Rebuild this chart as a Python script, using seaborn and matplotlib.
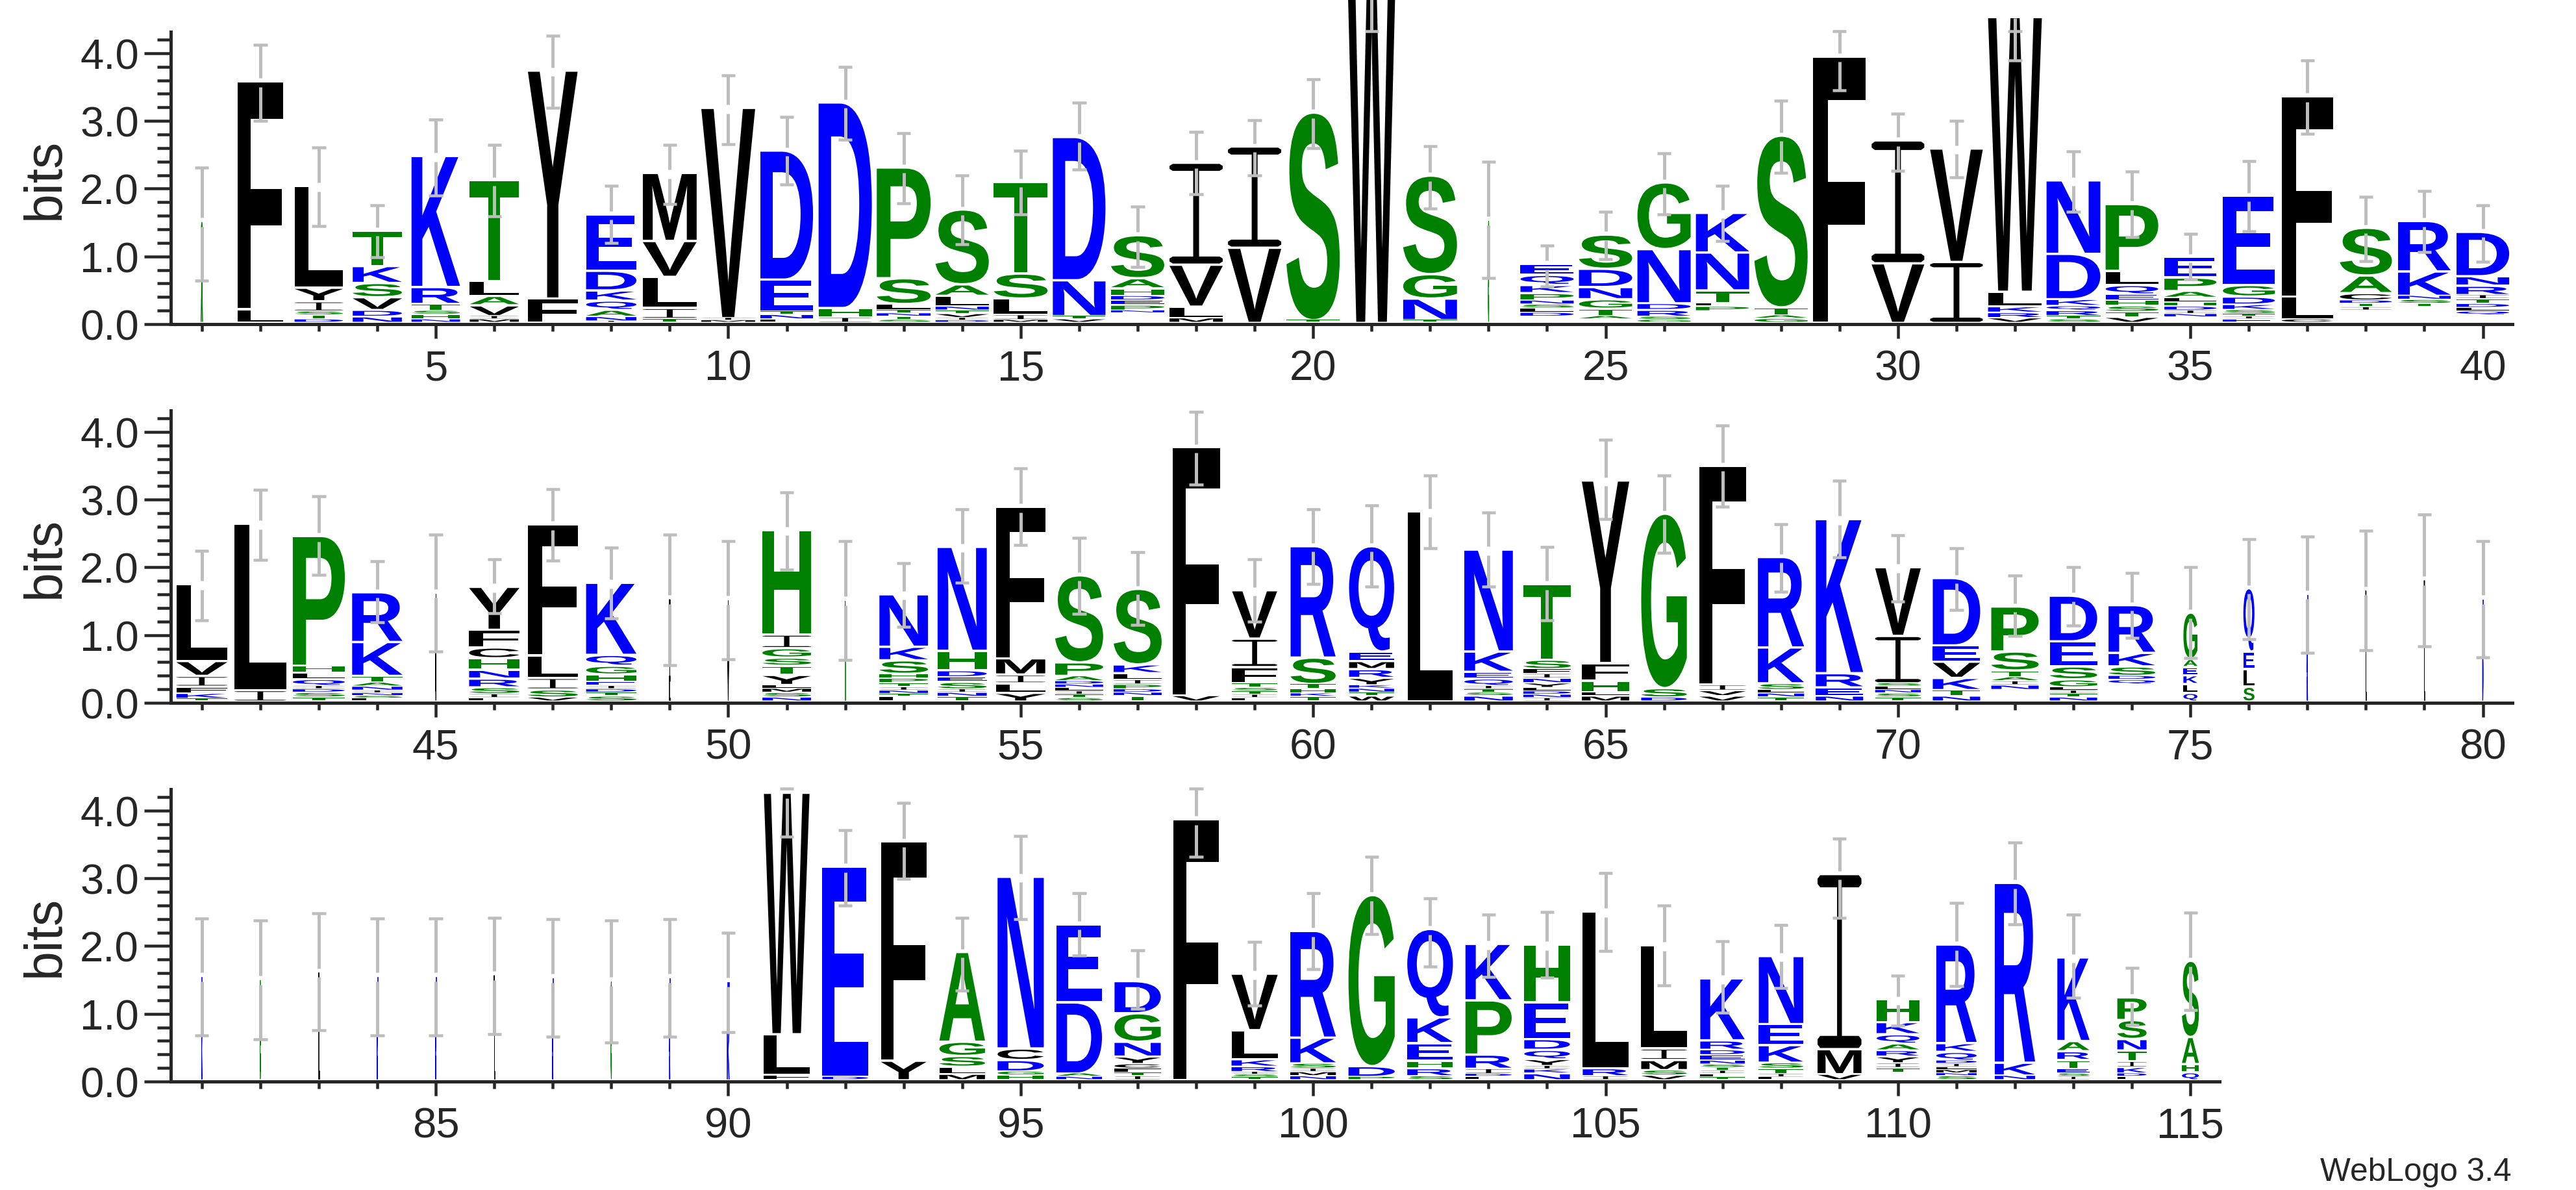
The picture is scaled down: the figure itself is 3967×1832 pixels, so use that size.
import matplotlib
matplotlib.use("Agg")
import matplotlib.pyplot as plt
import seaborn as sns
from matplotlib.font_manager import FontProperties
from matplotlib.patches import PathPatch
from matplotlib.path import Path
from matplotlib.textpath import TextPath
from matplotlib.transforms import Affine2D
from matplotlib.ticker import MultipleLocator

# ---------- data: letters are bottom -> top, ' ' is an empty spacer ----------
row1_letters = ["AS", "LF", "DTSIYL", "NDVSKT", "NHSTRK", "MIVALT", "FY", "INAQKDE", "TILVM", "MIV",
                "LNTED", "IHD", "STNTLSP", "DIVTNLAS", "MILST", "VTND", " NPEDHAS", "MLVI", "VI", "TS",
                "W", "TNGS", "GS", " DLSNPKQE", " ATGNDS", "GSRDNG", " PLTNK", "GATS", "F", "VI",
                "IV", "VRKLW", "STRQKDN", "VTSHEQLP", " NIDHLAPE", "EITSKDGE", "CLF", " ITDCAS", " TSNKR", " QLDTIRND"]
row1_heights = [[.72, .75], [.20, 3.33], [.05, .06, .06, .15, .20, 1.47], [.09, .10, .19, .21, .25, .49],
                [.05, .07, .06, .10, .25, 1.90], [.05, .05, .16, .14, .22, 1.45], [.36, 3.33],
                [.02, .07, .10, .14, .15, .29, .80], [.06, .16, .46, .53, .97], [.03, .04, 3.07],
                [.05, .07, .05, .47, 1.87], [.08, .14, 3.00], [.04, .05, .05, .05, .09, .38, 1.60],
                [.03, .04, .06, .05, .06, .16, .17, 1.07], [.04, .08, .24, .37, 1.32], [.05, .05, .53, 2.08],
                [.14, .04, .08, .07, .07, .11, .15, .60], [.07, .17, .62, 1.47], [1.11, 1.46], [.04, 3.03],
                [5.40], [.04, .32, .36, 1.42], [.75, .74], [.09, .06, .06, .06, .06, .11, .12, .15, .13],
                [.05, .05, .11, .14, .18, .27, .47], [.04, .05, .10, .10, .80, .95],
                [.17, .07, .05, .19, .56, .55], [.06, .05, .12, 2.50], [3.90], [.88, 1.78], [.90, 1.64],
                [.07, .08, .09, .22, 4.02], [.05, .05, .08, .07, .10, .67, 1.05],
                [.08, .08, .09, .08, .09, .14, .21, .95], [.08, .05, .05, .06, .06, .07, .10, .20, .27],
                [.05, .04, .04, .06, .08, .12, .17, 1.28], [.05, .34, 2.92],
                [.18, .05, .05, .05, .11, .26, .67], [.23, .05, .06, .06, .36, .71],
                [.11, .06, .05, .06, .07, .06, .14, .14, .62]]
row1_widths = [.03, .77, .83, .84, .83, .84, .85, .86, .92, .92, .90, .91, .92, .91, .92, .90, .91, .91, .91, .91,
               .84, .92, .012, .91, .91, .91, .91, .91, .90, .90, .90, .92, .92, .90, .89, .89, .88, .89, .90, .90]
row1_low = [.64, 3.00, 1.45, .99, 1.90, 1.59, 3.19, 1.20, 1.77, 2.66, 2.06, 2.72, 1.78, 1.18, 1.62, 2.28, .84, 1.92, 2.20, 2.60,
            4.32, 1.71, .68, .56, .96, 1.62, 1.23, 2.23, 3.45, 2.26, 2.17, 3.89, 1.66, 1.28, .66, 1.37, 2.81, .93, 1.06, .92]
row1_high = [2.31, 4.12, 2.61, 1.75, 3.02, 2.65, 4.26, 2.04, 2.65, 3.67, 3.06, 3.80, 2.82, 2.20, 2.56, 3.27, 1.74, 2.84, 3.01, 3.61,
             5.90, 2.63, 2.40, 1.16, 1.66, 2.52, 2.04, 3.30, 4.32, 3.11, 3.00, 4.32, 2.55, 2.25, 1.33, 2.41, 3.89, 1.88, 1.97, 1.75]

row2_letters = ["TKFIVL", "IL", "TSDIQLHP", "LSNINATKR", "VL", "LISRNHCFY", "VSILF", "STDIEHGQK", "LI", "VIL",
                "NSMLYTSGIH", "TS", "LTNITPHSKN", "TNISEDHN", "YLIMF", "STILNDAPS", "TNDPILKS", "VF", "LITSTFIV", "TKHTSR",
                "WTNKYRMEQ", "L", "NSTIQEKN", "INDLYNIFST", "MLHFY", "DSG", "VVIF", "TNLSKR", "NERK", "TSNLSIV",
                "NTKVED", " NIATSP", "NTILGSED", " QDSKR", "QLKEAG", "SLEQ", "KE", "LI", "LV", "DE"]
row2_heights = [[.04, .08, .10, .16, .22, 1.10], [.17, 2.42], [.06, .07, .05, .05, .10, .10, .10, 1.88],
                [.04, .04, .04, .04, .06, .06, .10, .50, .70], [.79, .79], [.05, .06, .10, .13, .13, .17, .16, .26, .60],
                [.06, .12, .17, .33, 1.90], [.08, .05, .05, .05, .06, .11, .13, .16, 1.03], [.28, 1.21], [.60, .40, .48],
                [.06, .07, .06, .055, .15, .135, .12, .14, .20, 1.51], [.75, .72],
                [.07, .04, .05, .05, .06, .07, .07, .20, .20, .74], [.07, .06, .05, .11, .07, .10, .29, 1.50],
                [.13, .14, .13, .24, 2.20], [.05, .05, .05, .05, .05, .05, .08, .20, 1.25],
                [.08, .05, .05, .07, .07, .10, .13, 1.08], [.09, 3.63],
                [.05, .05, .05, .05, .07, .24, .42, .68], [.07, .05, .07, .07, .39, 1.61],
                [.08, .05, .06, .05, .11, .13, .12, .14, 1.52], [2.77],
                [.08, .05, .05, .05, .11, .10, .30, 1.47], [.05, .05, .05, .05, .07, .07, .07, .07, .14, 1.08],
                [.08, .06, .17, .26, 2.66], [.06, .14, 2.54], [.08, .08, .09, 3.20],
                [.06, .06, .05, .10, .53, 1.30], [.08, .13, .21, 2.24], [.06, .06, .05, .05, .05, .70, .98],
                [.08, .09, .18, .24, .24, .96], [.17, .07, .06, .06, .10, .28, .63],
                [.06, .05, .05, .05, .12, .19, .37, .64], [.25, .07, .06, .14, .20, .67],
                [.13, .13, .13, .12, .12, .65], [.22, .26, .26, .90], [.76, .80], [.80, .82], [.85, .92], [.75, .74]]
row2_widths = [.87, .88, .89, .86, .012, .86, .86, .86, .02, .02, .83, .012, .83, .84, .84, .82, .82, .81, .77, .77,
               .77, .77, .83, .81, .81, .78, .80, .79, .81, .78, .81, .81, .81, .80, .24, .19, .012, .012, .012, .012]
row2_low = [1.22, 2.11, 1.89, 1.19, .76, 1.32, 2.10, 1.25, .56, .64, 1.97, .63, 1.12, 1.77, 2.33, 1.31, 1.15, 3.22, 1.20, 1.75,
            1.72, 2.28, 1.72, 1.22, 2.71, 2.21, 2.90, 1.64, 2.15, 1.50, 1.37, .99, 1.14, .96, .66, .94, .74, .78, .83, .67]
row2_high = [2.24, 3.14, 3.05, 2.09, 2.48, 2.12, 3.15, 2.29, 2.48, 2.39, 3.11, 2.39, 2.06, 2.86, 3.46, 2.44, 2.22, 4.30, 2.12, 2.86,
             2.91, 3.36, 2.81, 2.30, 3.88, 3.36, 4.09, 2.64, 3.28, 2.47, 2.28, 1.88, 2.00, 1.92, 2.00, 2.42, 2.45, 2.54, 2.78, 2.39]

row3_letters = ["KE", "GS", "LV", "KE", "KE", "LV", "KE", "GS", "KE", "KE",
                "FLW", "DE", "YF", "MLSGA", "HGDCN", "NADE", "ITFCYNGD", "F", "TSIRKLV", "NMISKR",
                "PDG", "SRHEKQ", "LDIRPK", "NKIYQDEH", "IRL", "VSMIL", "TLITSNEDRK", "LITSKEN", "VMI", " TIYRAQKH",
                "SNMLIDQKR", "NKR", "ISETRAK", "LDKITNSP", "QHAS"]
row3_heights = [[.75, .76], [.72, .74], [.78, .79], [.75, .76], [.75, .76], [.76, .77], [.74, .75], [.72, .72], [.74, .75], [.72, .71],
                [.08, .60, 3.53], [.05, 3.07], [.29, 3.20], [.09, .11, .16, .21, 1.29], [.07, .06, .17, .17, 2.50],
                [.05, .05, 1.05, 1.12], [.06, .05, .06, .07, .11, .22, .42, .44], [3.82],
                [.04, .04, .04, .08, .11, .43, .80], [.06, .06, .05, .08, .38, 1.54], [.05, .16, 2.49],
                [.06, .12, .11, .26, .38, 1.27], [.05, .04, .08, .21, .80, .80], [.10, .06, .05, .10, .14, .16, .54, .82],
                [.06, .12, 2.28], [.07, .08, .15, .17, 1.49], [.04, .05, .05, .04, .05, .06, .08, .08, .14, .88],
                [.04, .05, .08, .09, .26, .31, .97], [.09, .37, 2.55], [.11, .07, .07, .10, .09, .10, .14, .18, .30],
                [.06, .04, .05, .04, .05, .05, .13, .13, 1.42], [.07, .19, 2.62], [.05, .05, .07, .13, .13, .15, 1.20],
                [.05, .05, .09, .09, .16, .17, .28, .30], [.12, .12, .40, 1.09]]
row3_widths = [.012, .012, .012, .012, .012, .012, .012, .012, .012, .04, .78, .78, .78, .78, .79, .78, .79, .78, .79, .78,
               .79, .78, .79, .78, .78, .78, .76, .76, .75, .73, .69, .69, .55, .50, .29]
row3_low = [.68, .62, .76, .68, .68, .70, .66, .58, .66, .73, 3.61, 2.60, 2.99, 1.34, 2.40, 1.86, 1.07, 3.32, 1.12, 1.66,
            2.18, 1.70, 1.54, 1.53, 1.93, 1.42, 1.02, 1.38, 2.42, .82, 1.41, 2.32, 1.24, .83, 1.05]
row3_high = [2.41, 2.38, 2.48, 2.41, 2.41, 2.42, 2.40, 2.38, 2.40, 2.20, 4.32, 3.71, 4.11, 2.42, 3.62, 2.78, 1.94, 4.32, 2.06, 2.78,
             3.32, 2.70, 2.46, 2.50, 3.08, 2.60, 2.07, 2.31, 3.59, 1.56, 2.64, 3.53, 2.46, 1.68, 2.49]

row_first = [1, 41, 81]
row_last_limit = [40.5, 80.5, 115.5]
y_zero_px = [500, 1083, 1666]
black_letters = "FLYIVMWC"
blue_letters = "KRDENQ"
green_letters = "STGHPA"
y_tick_values = [0, 1, 2, 3, 4]
x_axis_label = "bits"
credit = "WebLogo 3.4"

# ---------- style ----------
W, H, DPI = 3967, 1833, 100
sns.set_theme(style="ticks", font="Liberation Sans")
plt.rcParams["font.family"] = ["Liberation Sans", "DejaVu Sans"]
PX = 72 / DPI
GREY = "#bdbdbd"
PX_PER_BIT = 104.3
PX_PER_POS = 90.07
BASE = 0.035
GAP = 0.035
ERR_GAP = 0.065
TICK_FONT = 47
bold = FontProperties(family="Liberation Sans", weight="bold")


def colour_of(letter):
    if letter in blue_letters:
        return "#0000ff"
    if letter in green_letters:
        return "#008000"
    return "#000000"


def unit_glyph(letter):
    if letter == "I":
        # slab-serif I, as drawn by WebLogo
        b, s, c = 0.07, 0.055, 0.02
        pts = [(0, c), (.06, 0), (.94, 0), (1, c), (1, b - c), (.94, b), (.5 + s, b), (.5 + s, 1 - b), (.94, 1 - b),
               (1, 1 - b + c), (1, 1 - c), (.94, 1), (.06, 1), (0, 1 - c), (0, 1 - b + c), (.06, 1 - b),
               (.5 - s, 1 - b), (.5 - s, b), (.06, b), (0, b - c), (0, c)]
        return Path(pts, closed=True)
    p = TextPath((0, 0), letter, size=1, prop=bold)
    e = p.get_extents()
    return p.transformed(Affine2D().translate(-e.x0, -e.y0).scale(1 / e.width, 1 / e.height))


glyphs = {c: unit_glyph(c) for c in black_letters + blue_letters + green_letters}

fig = plt.figure(figsize=(W / DPI, H / DPI), dpi=DPI)
rows = [(row1_letters, row1_heights, row1_widths, row1_low, row1_high),
        (row2_letters, row2_heights, row2_widths, row2_low, row2_high),
        (row3_letters, row3_heights, row3_widths, row3_low, row3_high)]

for r, (letters, heights, widths, low, high) in enumerate(rows):
    x0, x1 = row_first[r] - 0.5, row_last_limit[r]
    ymax = 4.31
    left_px = 265.8
    width_px = (x1 - x0) * PX_PER_POS
    height_px = ymax * PX_PER_BIT
    ax = fig.add_axes([left_px / W, 1 - y_zero_px[r] / H, width_px / W, height_px / H])
    ax.set_xlim(x0, x1)
    ax.set_ylim(0, ymax)
    ax.patch.set_alpha(0)

    for i, (stack, hs, wd, lo, hi) in enumerate(zip(letters, heights, widths, low, high)):
        pos = row_first[r] + i
        y = BASE
        thin = wd < 0.1
        for j, (ch, h) in enumerate(zip(stack, hs)):
            if ch != " ":
                g = 0 if (thin or j == len(stack) - 1) else min(GAP, h * 0.3)
                tr = Affine2D().scale(wd, h - g).translate(pos - wd / 2, y) + ax.transData
                col = colour_of(ch)
                ax.add_patch(PathPatch(glyphs[ch], transform=tr, fc=col, ec=col, lw=0.7 * PX if thin else 0,
                                       clip_on=False, zorder=3))
            y += h
        # error bar, broken around the top of the stack
        if lo < y < hi:
            segs = [(lo, y - ERR_GAP), (y + ERR_GAP, hi)]
        else:
            segs = [(lo, max(hi, y))]
        for a, b in segs:
            ax.plot([pos, pos], [a, b], color=GREY, lw=5 * PX, solid_capstyle="butt", clip_on=False, zorder=4)
        for c in [lo, hi]:
            ax.plot([pos - .118, pos + .118], [c, c], color=GREY, lw=4.5 * PX, solid_capstyle="butt",
                    clip_on=False, zorder=4)

    sns.despine(ax=ax, top=True, right=True)
    ax.spines["left"].set_position(("outward", 3 * PX))
    ax.spines["left"].set_linewidth(5 * PX)
    ax.spines["bottom"].set_linewidth(5 * PX)
    ax.yaxis.set_minor_locator(MultipleLocator(0.2))
    ax.set_yticks(y_tick_values)
    ax.set_yticklabels([f"{v:.1f}" for v in y_tick_values], fontsize=TICK_FONT)
    ax.tick_params(axis="y", which="major", length=41 * PX, width=4.5 * PX, pad=8 * PX, direction="out")
    ax.tick_params(axis="y", which="minor", length=21 * PX, width=4.5 * PX, direction="out")
    pos_all = list(range(row_first[r], row_first[r] + len(letters)))
    ax.set_xticks([p for p in pos_all if p % 5 == 0])
    ax.set_xticks([p for p in pos_all if p % 5], minor=True)
    ax.tick_params(axis="x", which="major", length=22 * PX, width=4.5 * PX, pad=17 * PX, labelsize=TICK_FONT, direction="out")
    ax.tick_params(axis="x", which="minor", length=11.5 * PX, width=4.5 * PX, direction="out")
    fig.text(70 / W, 1 - (y_zero_px[r] - 225) / H, x_axis_label, rotation=90, ha="center", va="center", fontsize=58)

fig.text(3868 / W, 1 - 1818 / H, credit, ha="right", va="baseline", fontsize=35.7)
fig.savefig("out.png", dpi=DPI, facecolor="white")
